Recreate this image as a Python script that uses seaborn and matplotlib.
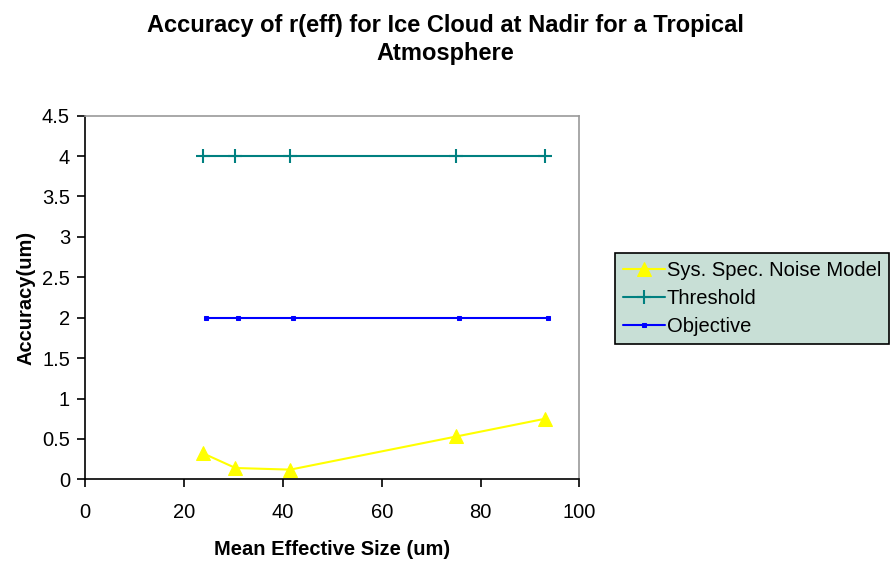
import matplotlib
matplotlib.use("Agg")
import matplotlib.pyplot as plt
import seaborn as sns

# Data
noise_x = [23.9, 30.4, 41.5, 75.1, 93.1]
noise_y = [0.32, 0.14, 0.12, 0.53, 0.75]
threshold_x = [23.9, 30.4, 41.5, 75.1, 93.1]
threshold_y = [4, 4, 4, 4, 4]
objective_x = [24.4, 31.0, 42.1, 75.6, 93.6]
objective_y = [2, 2, 2, 2, 2]

x_ticks = [0, 20, 40, 60, 80, 100]
y_ticks = [0, 0.5, 1, 1.5, 2, 2.5, 3, 3.5, 4, 4.5]

sns.set_style("white", rc={'text.color': 'black', 'axes.labelcolor': 'black',
                           'xtick.color': 'black', 'ytick.color': 'black'})
plt.rcParams['font.family'] = ['Liberation Sans', 'DejaVu Sans']

fig = plt.figure(figsize=(8.91, 5.61), dpi=100)
ax = fig.add_axes([0.0957, 0.1456, 0.5545, 0.6482])

sns.lineplot(x=noise_x, y=noise_y, ax=ax, color='#FFFF00', marker='^',
             markersize=10, markeredgecolor='#FFFF00', linewidth=1.5,
             label='Sys. Spec. Noise Model')
sns.lineplot(x=threshold_x, y=threshold_y, ax=ax, color='#008080', marker='+',
             markersize=10, markeredgewidth=1.5, markeredgecolor='#008080',
             linewidth=1.5, label='Threshold')
sns.lineplot(x=objective_x, y=objective_y, ax=ax, color='#0000FF', marker='s',
             markersize=3.5, markeredgecolor='#0000FF', linewidth=1.5,
             label='Objective')

ax.set_xlim(0, 100)
ax.set_ylim(0, 4.5)
ax.set_xticks(x_ticks)
ax.set_yticks(y_ticks)
ax.set_yticklabels([f'{v:g}' for v in y_ticks])
ax.tick_params(axis='both', direction='out', length=6, width=1.2, labelsize=14.5,
               bottom=True, left=True, color='black', pad=5)
ax.tick_params(axis='x', pad=11)

for side in ['top', 'right']:
    ax.spines[side].set_color('#999999')
    ax.spines[side].set_linewidth(1.2)
for side in ['left', 'bottom']:
    ax.spines[side].set_color('black')
    ax.spines[side].set_linewidth(1.2)

ax.set_xlabel('Mean Effective Size (um)', fontsize=14.5, fontweight='bold', labelpad=13)
ax.set_ylabel('Accuracy(um)', fontsize=14.5, fontweight='bold', labelpad=5)

fig.text(0.5, 0.975, 'Accuracy of r(eff) for Ice Cloud at Nadir for a Tropical\nAtmosphere',
         ha='center', va='top', fontsize=17, fontweight='bold', linespacing=1.25)

leg = ax.legend(loc='upper left', bbox_to_anchor=(1.073, 0.622), fontsize=14.5,
                frameon=True, fancybox=False, borderpad=0.4, labelspacing=0.45,
                handlelength=2.05, handletextpad=0.1, borderaxespad=0)
leg.get_frame().set_facecolor('#C8DFD6')
leg.get_frame().set_edgecolor('black')
leg.get_frame().set_linewidth(1.2)
leg.get_frame().set_alpha(1)

fig.savefig('out.png', dpi=100)
